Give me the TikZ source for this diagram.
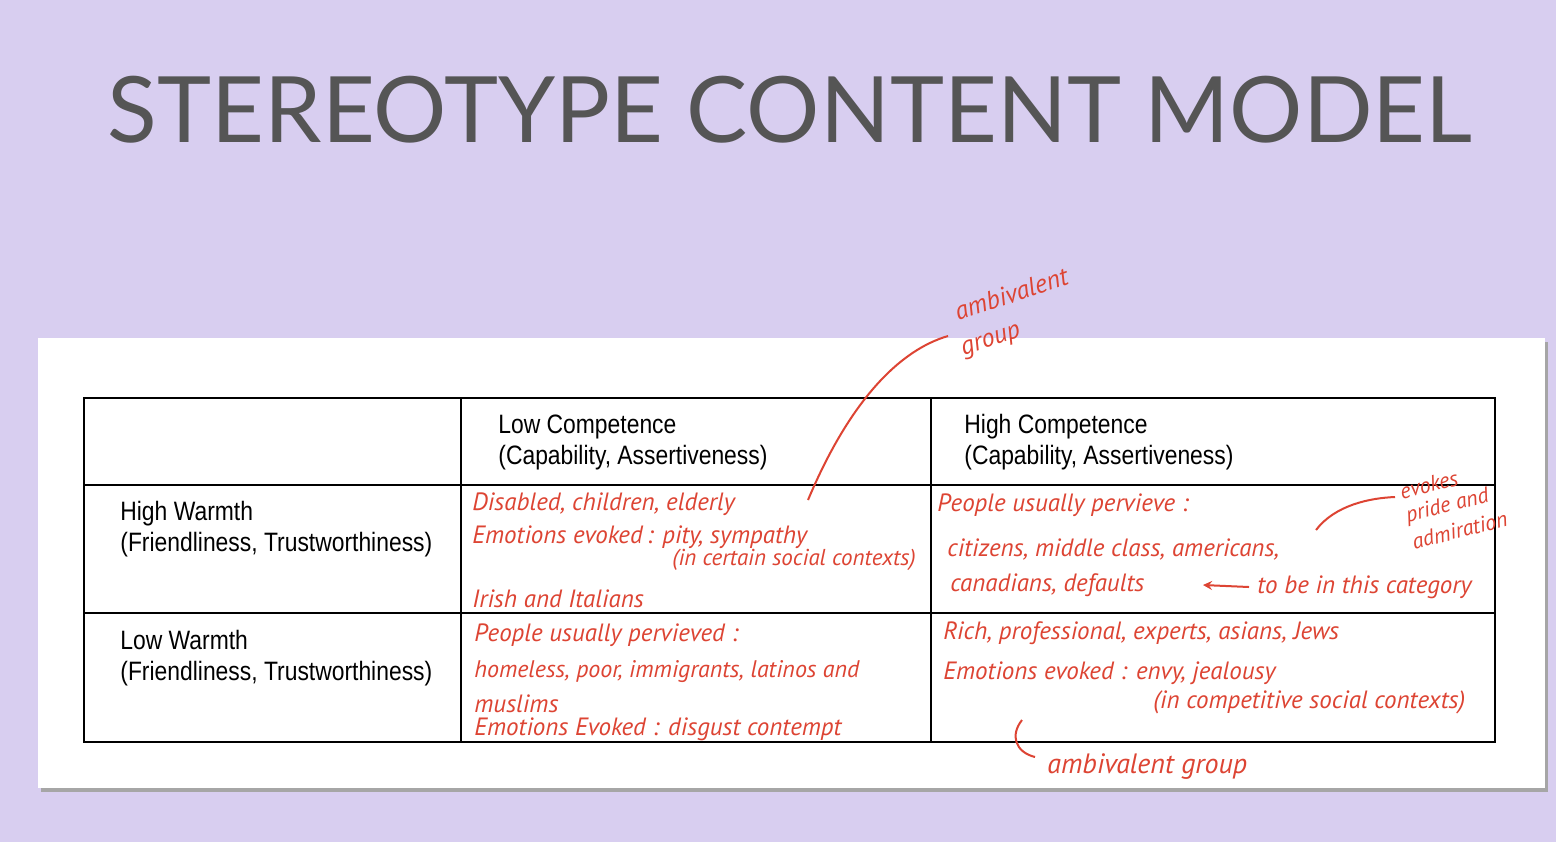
\documentclass[tikz,border=0pt]{standalone}
\usepackage{fontspec}
\setmainfont{Liberation Sans}[FakeStretch=0.86]
\newfontfamily\titlef{Lato}
\newfontfamily\handf{PT Sans}
\definecolor{bg}{HTML}{D8CEF0}
\definecolor{ink}{HTML}{DD4433}
\definecolor{tgray}{HTML}{555555}
\begin{document}
\begin{tikzpicture}[x=0.5pt,y=-0.5pt,
  cell/.style={anchor=west,align=left,font=\fontsize{13.3}{15.5}\selectfont,inner sep=0},
  hw/.style={anchor=west,text=ink,font=\handf\itshape\fontsize{12.5}{14}\selectfont,inner sep=0},
  sm/.style={hw,rotate=14,font=\handf\itshape\fontsize{11}{12}\selectfont},
  pen/.style={draw=ink,line width=1pt}]
\fill[bg] (0,0) rectangle (1556,842);
\useasboundingbox (0,0) rectangle (1556,842);
\node[font=\titlef\fontsize{45.8}{50}\selectfont,text=tgray] (title) at (790,110) {STEREOTYPE CONTENT MODEL};
\fill[black!35] (41,342) rectangle (1548,792);
\fill[white] (38,338) rectangle (1545,788);
\draw[line width=1pt] (84,398) rectangle (1495,742);
\draw[line width=1pt] (84,485) -- (1495,485) (84,613) -- (1495,613) (461,398) -- (461,742) (931,398) -- (931,742);
\node[cell] (lc) at (498,442) {Low Competence\\(Capability, Assertiveness)};
\node[cell] (hc) at (964,442) {High Competence\\(Capability, Assertiveness)};
\node[cell] (hw) at (120,529) {High Warmth\\(Friendliness, Trustworthiness)};
\node[cell] (lw) at (120,658) {Low Warmth\\(Friendliness, Trustworthiness)};
% handwriting
\node[hw] (a1) at (472,504) {Disabled, children, elderly};
\node[hw] (a2) at (472,537) {Emotions evoked\,: pity, sympathy};
\node[hw,font=\handf\itshape\fontsize{11.5}{13}\selectfont] (a3) at (672,560) {(in certain social contexts)};
\node[hw] (a4) at (472,599) {Irish and Italians};
\node[hw] (b1) at (937,505) {People usually pervieve :};
\node[hw] (b2) at (947,549) {citizens, middle class, americans,};
\node[hw] (b3) at (950,585) {canadians, defaults};
\node[hw] (b4) at (1257,587) {to be in this category};
\node[sm] (b5) at (1400,492) {evokes};
\node[sm] (b6) at (1406,517) {pride and};
\node[sm] (b7) at (1412,542) {admiration};
\node[hw] (c1) at (474,635) {People usually pervieved :};
\node[hw,font=\handf\itshape\fontsize{12}{14}\selectfont] (c2) at (474,672) {homeless, poor, immigrants, latinos and};
\node[hw] (c3) at (474,704) {muslims};
\node[hw] (c4) at (474,729) {Emotions Evoked : disgust contempt};
\node[hw] (d1) at (943,633) {Rich, professional, experts, asians, Jews};
\node[hw] (d2) at (943,673) {Emotions evoked : envy, jealousy};
\node[hw] (d3) at (1153,702) {(in competitive social contexts)};
\node[hw,rotate=18,font=\handf\itshape\fontsize{13}{15}\selectfont] (g1) at (955,312) {ambivalent};
\node[hw,rotate=18,font=\handf\itshape\fontsize{13}{15}\selectfont] (g0) at (962,352) {group};
\node[hw,font=\handf\itshape\fontsize{14}{16}\selectfont] (g2) at (1047,767) {ambivalent group};
\coordinate (p1) at (808,500);
\draw[pen] (p1) .. controls (850,400) and (900,350) .. (948,336);
\draw[pen,->,>=stealth] (b4.west) ++(-8,0) -- (1203,585);
\draw[pen] (1316,530) .. controls (1335,505) and (1370,498) .. (1395,497);
\draw[pen] (1022,720) .. controls (1010,735) and (1015,752) .. (1035,757);
\end{tikzpicture}
\end{document}
